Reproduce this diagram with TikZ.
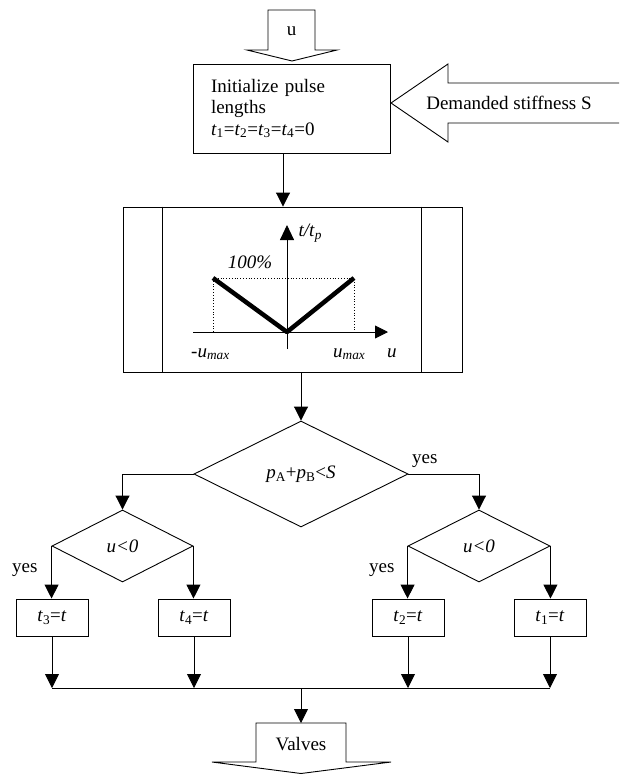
\documentclass[tikz,border=0pt]{standalone}
\usepackage{fontspec}
\setmainfont{Liberation Serif}
\usepackage{tikz}
\usetikzlibrary{shapes.geometric,arrows.meta,calc}
\definecolor{line-color}{RGB}{0,0,0}
\newcommand{\lowsub}[1]{\textsubscript{#1}}

\tikzset{
  flow-box/.style={draw=line-color, line width=0.9pt, rectangle, inner sep=0pt},
  flow-test/.style={draw=line-color, line width=0.9pt, diamond, inner sep=0pt},
  flow-line/.style={draw=line-color, line width=0.9pt},
  flow-arrow/.style={flow-line, -{Triangle[width=14pt,length=14pt]}},
  axis-arrow/.style={flow-line, -{Triangle[width=13pt,length=13pt]}},
  block-arrow/.style={draw=line-color, line width=0.9pt, line join=miter},
}

\begin{document}
\begin{tikzpicture}[x=1pt, y=-1pt, font=\fontsize{19}{21.5}\selectfont]
    \useasboundingbox (0,0) rectangle (619,774);

    % inputs
    \draw[block-arrow] (268,10) -- (315,10) -- (315,50) -- (337,50) -- (292,61)
        -- (247,50) -- (268,50) -- cycle;
    \node (u-in) at (291.5,31) {u};

    \node[flow-box, minimum width=197pt, minimum height=89pt, text width=161pt, align=left]
        (init) at (291.5,108.5)
        {Initialize pulse\\lengths\\\textit{t}\lowsub{1}=\textit{t}\lowsub{2}=\textit{t}\lowsub{3}=\textit{t}\lowsub{4}=0};

    \draw[block-arrow] (619,83) -- (448,83) -- (448,64) -- (391,103) -- (448,142)
        -- (448,123) -- (619,123);
    \node (stiffness) at (509,103) {Demanded stiffness S};

    % pulse length graph
    \node[flow-box, minimum width=339pt, minimum height=165pt] (graph) at (292.5,289.5) {};
    \draw[flow-line] ($(graph.north west)+(40,0)$) -- ($(graph.south west)+(40,0)$);
    \draw[flow-line] ($(graph.north east)+(-41,0)$) -- ($(graph.south east)+(-41,0)$);

    \coordinate (origin) at (287,332);
    \draw[axis-arrow] (193,332) -- (388,332);
    \draw[axis-arrow, -{Triangle[width=14pt,length=15pt]}] (287,349) -- (287,225);
    \draw[dotted, line width=0.8pt] (213,332) -- (213,278) -- (354,278) -- (354,332);
    \draw[line width=4.5pt, line join=round] (213,278) -- (origin) -- (354,278);
    \node[anchor=west] at (295,233) {\textit{t/t}\lowsub{\textit{p}}};
    \node at (250,262) {\textit{100\%}};
    \node[anchor=base west, inner sep=0pt] at (191,357) {-\textit{u}\lowsub{\textit{max}}};
    \node[anchor=base west, inner sep=0pt] at (333,357) {\textit{u}\lowsub{\textit{max}}};
    \node[anchor=base west, inner sep=0pt] at (387,357) {\textit{u}};

    \draw[flow-arrow] ([xshift=-8.5pt]init.south) -- ([xshift=-8.5pt]init.south |- graph.north);

    % decisions
    \node[flow-test, minimum width=214pt, minimum height=106pt] (decision) at (301,474)
        {\textit{p}\lowsub{A}+\textit{p}\lowsub{B}<\textit{S}};
    \draw[flow-arrow] (decision.north |- graph.south) -- (decision.north);

    \node[flow-test, minimum width=141pt, minimum height=72pt] (test-left) at (122.5,546) {\textit{u<0}};
    \node[flow-test, minimum width=142pt, minimum height=72pt] (test-right) at (479,546) {\textit{u<0}};
    \draw[flow-arrow] (decision.west) -| (test-left.north);
    \draw[flow-arrow] (decision.east) -| (test-right.north);
    \node[anchor=base west, inner sep=0pt] at (412,463) {yes};
    \node[anchor=base west, inner sep=0pt] at (12,572) {yes};
    \node[anchor=base west, inner sep=0pt] at (369,572) {yes};

    % pulse lengths
    \node[flow-box, minimum width=72pt, minimum height=37pt] (set-t3) at (52,617.5) {\textit{t}\lowsub{3}=\textit{t}};
    \node[flow-box, minimum width=72pt, minimum height=37pt] (set-t4) at (194,617.5) {\textit{t}\lowsub{4}=\textit{t}};
    \node[flow-box, minimum width=72pt, minimum height=37pt] (set-t2) at (408,617.5) {\textit{t}\lowsub{2}=\textit{t}};
    \node[flow-box, minimum width=72pt, minimum height=37pt] (set-t1) at (550,617.5) {\textit{t}\lowsub{1}=\textit{t}};
    \draw[flow-arrow] (test-left.west) -- (test-left.west |- set-t3.north);
    \draw[flow-arrow] (test-left.east) -- (test-left.east |- set-t4.north);
    \draw[flow-arrow] (test-right.west) -- (test-right.west |- set-t2.north);
    \draw[flow-arrow] (test-right.east) -- (test-right.east |- set-t1.north);

    % output
    \coordinate (bus) at (301,688);
    \draw[flow-arrow] (set-t3.south) -- (set-t3.south |- bus);
    \draw[flow-arrow] (set-t4.south) -- (set-t4.south |- bus);
    \draw[flow-arrow] (set-t2.south) -- (set-t2.south |- bus);
    \draw[flow-arrow] (set-t1.south) -- (set-t1.south |- bus);
    \draw[flow-line] (set-t3.south |- bus) -- (set-t1.south |- bus);

    \coordinate (valves-top) at (301,723);
    \draw[block-arrow] (256,723) -- (346,723) -- (346,762) -- (391,762) -- (301,773.5)
        -- (212,762) -- (256,762) -- cycle;
    \node (valves) at (301,744) {Valves};
    \draw[flow-arrow] (bus) -- (valves-top);
\end{tikzpicture}
\end{document}
